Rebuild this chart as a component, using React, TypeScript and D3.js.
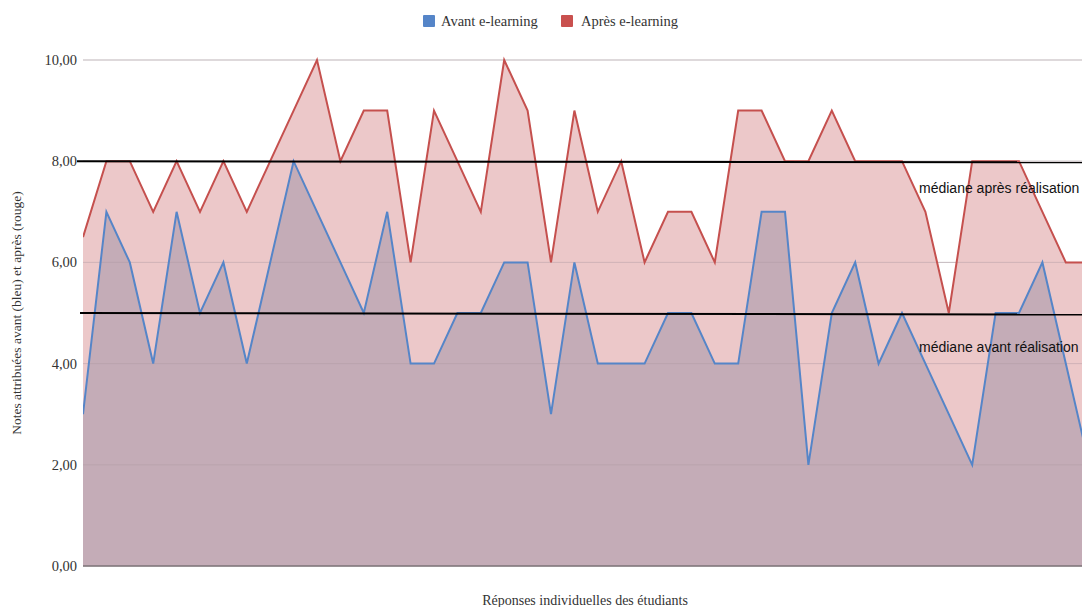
import React from "react";
import * as d3 from "d3";

const avant: number[] = [3, 7, 6, 4, 7, 5, 6, 4, 6, 8, 7, 6, 5, 7, 4, 4, 5, 5, 6, 6, 3, 6, 4, 4, 4, 5, 5, 4, 4, 7, 7, 2, 5, 6, 4, 5, 4, 3, 2, 5, 5, 6, 4, 2];
const apres: number[] = [6.5, 8, 8, 7, 8, 7, 8, 7, 8, 9, 10, 8, 9, 9, 6, 9, 8, 7, 10, 9, 6, 9, 7, 8, 6, 7, 7, 6, 9, 9, 8, 8, 9, 8, 8, 8, 7, 5, 8, 8, 8, 7, 6, 6];
const yTicks: number[] = [0, 2, 4, 6, 8, 10];
const medianApres = 8;
const medianAvant = 5;
const legendItems = [
  { label: "Avant e-learning", color: "#5585c8" },
  { label: "Après e-learning", color: "#c9504e" },
];

const W = 1082;
const H = 607;
const left = 83;
const right = 1082;
const top = 60;
const bottom = 566;
const step = 23.4;

export default function App() {
  const x = d3.scaleLinear().domain([0, avant.length - 1]).range([left, left + step * (avant.length - 1)]);
  const y = d3.scaleLinear().domain([0, 10]).range([bottom, top]);
  const fmt = (v: number) => v.toFixed(2).replace(".", ",");

  const areaGen = d3.area<number>().x((_, i) => x(i)).y0(y(0)).y1((d) => y(d));
  const lineGen = d3.line<number>().x((_, i) => x(i)).y((d) => y(d));

  const serif = "'Liberation Serif', 'Times New Roman', serif";
  const sans = "'Liberation Sans', Arial, sans-serif";

  return (
    <svg width={W} height={H} style={{ position: "absolute", left: 0, top: 0, background: "#fff" }}>
      <defs>
        <clipPath id="plot">
          <rect x={left} y={0} width={right - left} height={bottom + 1} />
        </clipPath>
      </defs>
      {/* legend */}
      <g>
        <rect x={423} y={15} width={12} height={12} fill={legendItems[0].color} rx={1} />
        <text x={441} y={26} fontFamily={serif} fontSize={14.5} fill="#333">{legendItems[0].label}</text>
        <rect x={561} y={15} width={12} height={12} fill={legendItems[1].color} rx={1} />
        <text x={581} y={26} fontFamily={serif} fontSize={14.5} fill="#333">{legendItems[1].label}</text>
      </g>
      {/* grid */}
      {yTicks.map((t) => (
        <g key={t}>
          <line x1={left} x2={right} y1={y(t)} y2={y(t)} stroke="#d9d9d9" strokeWidth={1} />
          <text x={77} y={y(t) + 5} textAnchor="end" fontFamily={serif} fontSize={14.5} fill="#333">{fmt(t)}</text>
        </g>
      ))}
      <g clipPath="url(#plot)">
        <path d={areaGen(apres) || ""} fill="#ecc8c9" />
        <path d={areaGen(avant) || ""} fill="#c4acb7" />
        {yTicks.filter((t) => t > 0).map((t) => (
          <line key={t} x1={left} x2={right} y1={y(t)} y2={y(t)} stroke="#b09aa2" strokeOpacity={0.45} strokeWidth={1} />
        ))}
        <path d={lineGen(apres) || ""} fill="none" stroke="#c5504e" strokeWidth={2} strokeLinejoin="miter" />
        <path d={lineGen(avant) || ""} fill="none" stroke="#5585c8" strokeWidth={2} strokeLinejoin="miter" />
      </g>
      <line x1={left} x2={right} y1={y(0)} y2={y(0)} stroke="#7c7377" strokeWidth={1.5} />
      {/* medians */}
      <line x1={77} x2={right} y1={y(medianApres)} y2={y(medianApres) + 1} stroke="#000" strokeWidth={2} />
      <line x1={80} x2={right} y1={y(medianAvant)} y2={y(medianAvant) + 1.5} stroke="#000" strokeWidth={2} />
      <text x={919} y={193} fontFamily={sans} fontSize={14} fill="#111">médiane après réalisation</text>
      <text x={919} y={352} fontFamily={sans} fontSize={14} fill="#111">médiane avant réalisation</text>
      {/* axis titles */}
      <text
        transform={`translate(21, ${(top + bottom) / 2}) rotate(-90)`}
        textAnchor="middle"
        fontFamily={serif}
        fontSize={13.5}
        fill="#333"
      >
        Notes attribuées avant (bleu) et après (rouge)
      </text>
      <text x={585} y={605} textAnchor="middle" fontFamily={serif} fontSize={14} fill="#333">
        Réponses individuelles des étudiants
      </text>
    </svg>
  );
}
